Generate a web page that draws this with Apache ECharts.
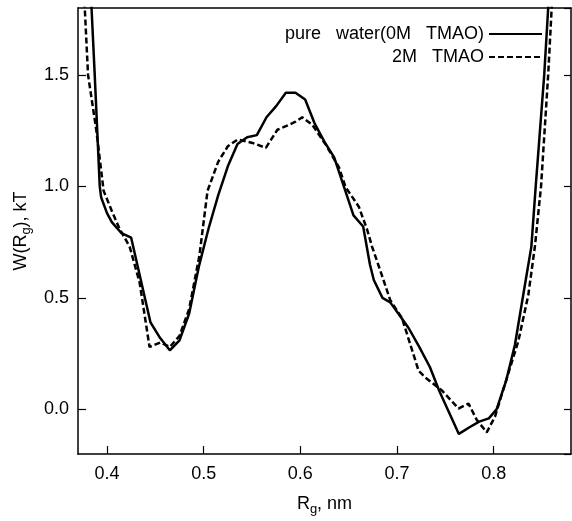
<!DOCTYPE html>
<html>
<head>
<meta charset="utf-8">
<script src="https://cdn.jsdelivr.net/npm/echarts@6/dist/echarts.min.js"></script>
<style>
    html, body { margin: 0; padding: 0; background: #fff; }
    #chart { width: 572px; height: 521px; }
</style>
</head>
<body>
<div id="chart"></div>
<script>
"use strict";

/* ---------- data ---------- */
// pure water (0M TMAO) — solid line
const rgWater = [0.382, 0.384, 0.3873, 0.3925, 0.394, 0.400, 0.405, 0.415, 0.425, 0.445,
    0.455, 0.465, 0.475, 0.485, 0.495, 0.505, 0.515, 0.525, 0.535, 0.545,
    0.555, 0.565, 0.575, 0.585, 0.595, 0.605, 0.615, 0.625, 0.635, 0.645,
    0.655, 0.665, 0.672, 0.676, 0.685, 0.693, 0.703, 0.712, 0.723, 0.734,
    0.744, 0.754, 0.764, 0.775, 0.785, 0.795, 0.803, 0.813, 0.822, 0.832,
    0.839, 0.8435, 0.8523, 0.8564, 0.858];
const wWater = [1.95, 1.80, 1.50, 1.00, 0.95, 0.88, 0.84, 0.79, 0.77, 0.39,
    0.32, 0.265, 0.31, 0.43, 0.64, 0.81, 0.96, 1.09, 1.19, 1.22,
    1.23, 1.31, 1.36, 1.42, 1.42, 1.39, 1.28, 1.20, 1.13, 1.00,
    0.87, 0.82, 0.65, 0.58, 0.50, 0.48, 0.42, 0.365, 0.28, 0.19,
    0.08, -0.015, -0.11, -0.08, -0.055, -0.04, 0.00, 0.13, 0.29, 0.55,
    0.73, 1.00, 1.50, 1.80, 1.95];

// 2M TMAO — dashed line
const rgTmao = [0.375, 0.377, 0.3804, 0.389, 0.3965, 0.405, 0.413, 0.4234, 0.4337, 0.444,
    0.455, 0.465, 0.475, 0.485, 0.4956, 0.504, 0.515, 0.525, 0.535, 0.5505,
    0.5643, 0.5763, 0.585, 0.595, 0.602, 0.6124, 0.6262, 0.64, 0.6468, 0.6605,
    0.6691, 0.6742, 0.6845, 0.693, 0.7051, 0.7224, 0.729, 0.7464, 0.7636, 0.774,
    0.7825, 0.7928, 0.8014, 0.8118, 0.8255, 0.8358, 0.8427, 0.849, 0.8564, 0.860, 0.862];
const wTmao = [1.95, 1.80, 1.50, 1.25, 0.98, 0.89, 0.81, 0.73, 0.57, 0.28,
    0.30, 0.28, 0.33, 0.45, 0.69, 0.98, 1.11, 1.18, 1.21, 1.195,
    1.173, 1.254, 1.27, 1.29, 1.31, 1.276, 1.188, 1.085, 0.997, 0.909,
    0.806, 0.73, 0.60, 0.49, 0.41, 0.173, 0.144, 0.085, 0.004, 0.026,
    -0.047, -0.103, -0.032, 0.115, 0.306, 0.512, 0.732, 1.00, 1.50, 1.80, 1.95];

const seriesNames = ["pure   water(0M   TMAO)", "2M   TMAO"];

/* ---------- style ---------- */
const FONT = '"Liberation Sans", Arial, Helvetica, sans-serif';
const INK = "#000";

const pairs = (xs, ys) => xs.map((x, i) => [x, ys[i]]);

// subscript via rich text
const rich = {
    t: { fontSize: 18, color: INK, fontFamily: FONT, lineHeight: 20 },
    s: { fontSize: 13, color: INK, fontFamily: FONT, verticalAlign: "bottom", padding: [10, 0, 0, 0] }
};

const axisLine = { show: true, onZero: false, lineStyle: { color: INK, width: 1.5 } };
const ticks = { show: true, inside: true, length: 8, lineStyle: { color: INK, width: 1.2 } };
const labels = {
    color: INK, fontSize: 18, fontFamily: FONT,
    showMinLabel: false, showMaxLabel: false,
    formatter: v => v.toFixed(1)
};

const chart = echarts.init(document.getElementById("chart"));
chart.setOption({
    animation: false,
    textStyle: { fontFamily: FONT },
    grid: { left: 78, right: 1, top: 8, bottom: 60 },
    legend: {
        orient: "vertical", right: 24, top: 20, align: "right",
        itemWidth: 53, itemHeight: 14, itemGap: 5,
        // line only, hide the marker drawn on the legend line
        itemStyle: { opacity: 0 },
        textStyle: { fontSize: 18, color: INK, fontFamily: FONT },
        data: seriesNames
    },
    xAxis: [
        {
            type: "value", min: 0.37, max: 0.88,
            axisLine, axisTick: ticks, axisLabel: { ...labels, margin: 11 },
            splitLine: { show: false },
            name: "{t|R}{s|g}{t|, nm}", nameLocation: "middle", nameGap: 39,
            nameTextStyle: { rich }
        },
        {
            type: "value", min: 0.37, max: 0.88, position: "top",
            axisLine, axisTick: { show: false }, axisLabel: { show: false },
            splitLine: { show: false }
        }
    ],
    yAxis: [
        {
            type: "value", min: -0.2, max: 1.8,
            axisLine, axisTick: ticks, axisLabel: { ...labels, margin: 9 },
            splitLine: { show: false },
            name: "{t|W(R}{s|g}{t|), kT}", nameLocation: "middle", nameGap: 45,
            nameTextStyle: { rich }
        },
        {
            type: "value", min: -0.2, max: 1.8, position: "right",
            axisLine, axisTick: { ...ticks, length: 7 }, axisLabel: { show: false },
            splitLine: { show: false }
        }
    ],
    series: [
        {
            name: seriesNames[0], type: "line", symbol: "none", clip: true,
            lineStyle: { color: INK, width: 2.5 },
            itemStyle: { color: INK },
            data: pairs(rgWater, wWater)
        },
        {
            name: seriesNames[1], type: "line", symbol: "none", clip: true,
            lineStyle: { color: INK, width: 2.5, type: [6, 3] },
            itemStyle: { color: INK },
            data: pairs(rgTmao, wTmao)
        }
    ]
});
</script>
</body>
</html>
